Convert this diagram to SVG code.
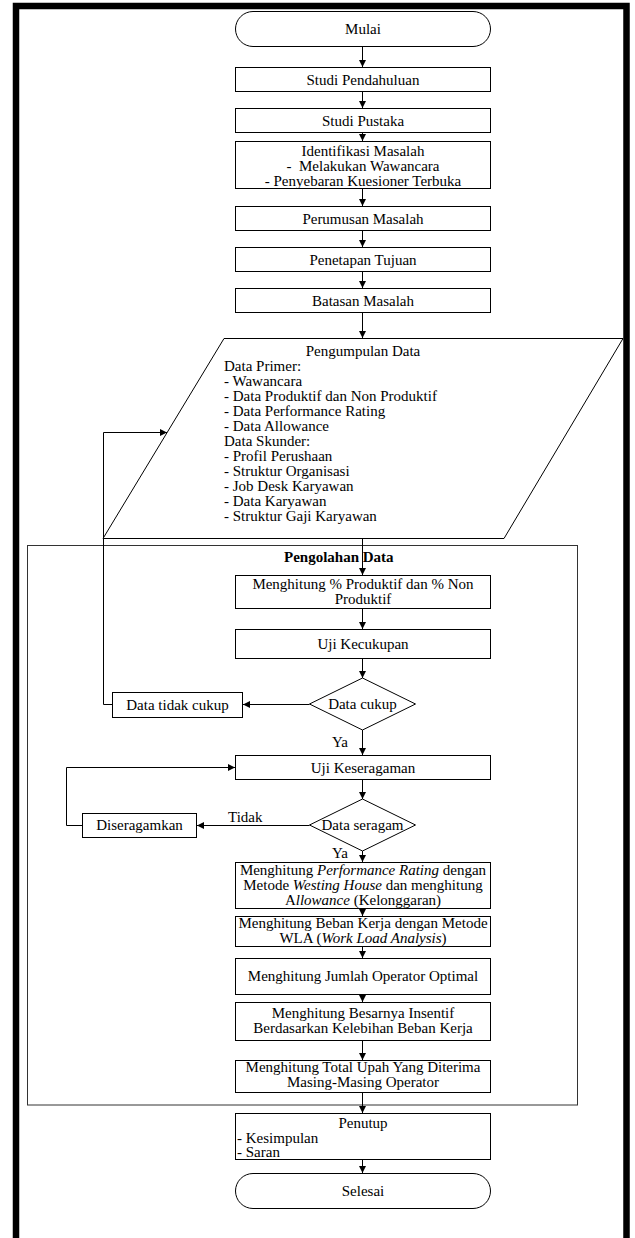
<svg xmlns="http://www.w3.org/2000/svg" width="635" height="1238" viewBox="0 0 635 1238">
<style>
text{font-family:"Liberation Serif","Times New Roman",serif;font-size:15px;fill:#000}
.c{text-anchor:middle}
.b{font-weight:bold}
.i{font-style:italic}
.pre{white-space:pre}
.box{fill:#fff;stroke:#000;stroke-width:1}
.ln{fill:none;stroke:#000;stroke-width:1}
.arr{fill:none;stroke:#000;stroke-width:1;marker-end:url(#ah)}
</style>
<defs>
<marker id="ah" viewBox="0 0 10 10" refX="10" refY="5" markerWidth="7" markerHeight="8" markerUnits="userSpaceOnUse" orient="auto">
<path d="M0,0 L10,5 L0,10 z" fill="#000"/>
</marker>
</defs>
<rect x="0" y="0" width="635" height="1238" fill="#fff"/>
<path d="M16,1245 V6 H626.5 V1245" fill="none" stroke="#000" stroke-width="6.5"/>
<g id="container">
<rect x="27.5" y="545.5" width="550" height="559.5" fill="none" stroke="#333" stroke-width="1"/>
<text class="b" x="284" y="562">Pengolahan Data</text>
</g>
<g id="mulai"><rect class="box" x="235.5" y="11.5" width="255" height="35" rx="17.5"/><text class="c" x="363" y="34">Mulai</text></g>
<g id="studi-pendahuluan"><rect class="box" x="235.5" y="67.5" width="255" height="24"/><text class="c" x="363" y="84.5">Studi Pendahuluan</text></g>
<g id="studi-pustaka"><rect class="box" x="235.5" y="108.5" width="255" height="24"/><text class="c" x="363" y="125.5">Studi Pustaka</text></g>
<g id="identifikasi"><rect class="box" x="235.5" y="141.5" width="255" height="47"/>
<text class="c" x="363" y="155.5">Identifikasi Masalah</text>
<text class="c pre" x="363" y="170.5" xml:space="preserve">-  Melakukan Wawancara</text>
<text class="c" x="363" y="185.5">- Penyebaran Kuesioner Terbuka</text></g>
<g id="perumusan"><rect class="box" x="235.5" y="206.5" width="255" height="24"/><text class="c" x="363" y="223.5">Perumusan Masalah</text></g>
<g id="penetapan"><rect class="box" x="235.5" y="247.5" width="255" height="24"/><text class="c" x="363" y="264.5">Penetapan Tujuan</text></g>
<g id="batasan"><rect class="box" x="235.5" y="288.5" width="255" height="24"/><text class="c" x="363" y="305.5">Batasan Masalah</text></g>
<g id="pengumpulan"><polygon class="box" points="224,338.5 623,338.5 504,538.5 103,538.5"/>
<text class="c" x="363" y="356">Pengumpulan Data</text>
<text x="224" y="371">Data Primer:</text>
<text x="224" y="386">- Wawancara</text>
<text x="224" y="401">- Data Produktif dan Non Produktif</text>
<text x="224" y="416">- Data Performance Rating</text>
<text x="224" y="431">- Data Allowance</text>
<text x="224" y="446">Data Skunder:</text>
<text x="224" y="461">- Profil Perushaan</text>
<text x="224" y="476">- Struktur Organisasi</text>
<text x="224" y="491">- Job Desk Karyawan</text>
<text x="224" y="506">- Data Karyawan</text>
<text x="224" y="521">- Struktur Gaji Karyawan</text></g>
<g id="produktif"><rect class="box" x="235.5" y="575.5" width="255" height="33"/>
<text class="c" x="363" y="589">Menghitung % Produktif dan % Non</text>
<text class="c" x="363" y="604">Produktif</text></g>
<g id="uji-kecukupan"><rect class="box" x="235.5" y="629.5" width="255" height="29"/><text class="c" x="363" y="649">Uji Kecukupan</text></g>
<g id="data-cukup"><polygon class="box" points="362.5,678 415.5,704 362.5,730 309.5,704"/><text class="c" x="362.5" y="709">Data cukup</text></g>
<g id="tidak-cukup"><rect class="box" x="112.5" y="692.5" width="130" height="25"/><text class="c" x="177.5" y="710">Data tidak cukup</text></g>
<g id="uji-keseragaman"><rect class="box" x="235.5" y="755.5" width="255" height="24"/><text class="c" x="363" y="772.5">Uji Keseragaman</text></g>
<g id="data-seragam"><polygon class="box" points="362.5,799 415.5,825 362.5,851 309.5,825"/><text class="c" x="362.5" y="830">Data seragam</text></g>
<g id="diseragamkan"><rect class="box" x="82.5" y="813.5" width="114" height="24"/><text class="c" x="139.5" y="830">Diseragamkan</text></g>
<g id="performance"><rect class="box" x="235.5" y="862.5" width="255" height="46"/>
<text class="c" x="363" y="875">Menghitung <tspan class="i">Performance Rating</tspan> dengan</text>
<text class="c" x="363" y="890">Metode <tspan class="i">Westing House</tspan> dan menghitung</text>
<text class="c" x="363" y="905">A<tspan class="i">llowance</tspan> (Kelonggaran)</text></g>
<g id="wla"><rect class="box" x="235.5" y="916.5" width="255" height="30"/>
<text class="c" x="363" y="928">Menghitung Beban Kerja dengan Metode</text>
<text class="c" x="363" y="943">WLA (<tspan class="i">Work Load Analysis</tspan>)</text></g>
<g id="jumlah-operator"><rect class="box" x="235.5" y="958.5" width="255" height="36"/><text class="c" x="363" y="981">Menghitung Jumlah Operator Optimal</text></g>
<g id="insentif"><rect class="box" x="235.5" y="1002.5" width="255" height="38"/>
<text class="c" x="363" y="1018">Menghitung Besarnya Insentif</text>
<text class="c" x="363" y="1033">Berdasarkan Kelebihan Beban Kerja</text></g>
<g id="total-upah"><rect class="box" x="235.5" y="1060.5" width="255" height="32"/>
<text class="c" x="363" y="1072">Menghitung Total Upah Yang Diterima</text>
<text class="c" x="363" y="1087">Masing-Masing Operator</text></g>
<g id="penutup"><rect class="box" x="235.5" y="1113.5" width="255" height="46"/>
<text class="c" x="363" y="1128">Penutup</text>
<text x="237" y="1143">- Kesimpulan</text>
<text x="237" y="1157">- Saran</text></g>
<g id="selesai"><rect class="box" x="235.5" y="1173.5" width="255" height="35" rx="17.5"/><text class="c" x="363" y="1196">Selesai</text></g>
<g id="connectors">
<line class="arr" x1="362.5" y1="47" x2="362.5" y2="67"/>
<line class="arr" x1="362.5" y1="92" x2="362.5" y2="108"/>
<line class="arr" x1="362.5" y1="133" x2="362.5" y2="141"/>
<line class="arr" x1="362.5" y1="189" x2="362.5" y2="206"/>
<line class="arr" x1="362.5" y1="231" x2="362.5" y2="247"/>
<line class="arr" x1="362.5" y1="272" x2="362.5" y2="288"/>
<line class="arr" x1="362.5" y1="313" x2="362.5" y2="338"/>
<line class="arr" x1="362.5" y1="539" x2="362.5" y2="575"/>
<line class="arr" x1="362.5" y1="609" x2="362.5" y2="629"/>
<line class="arr" x1="362.5" y1="659" x2="362.5" y2="678"/>
<line class="arr" x1="309.5" y1="704.5" x2="243" y2="704.5"/>
<polyline class="arr" points="112.5,704.5 103.5,704.5 103.5,432.5 167,432.5"/>
<line class="arr" x1="362.5" y1="730" x2="362.5" y2="755"/>
<text x="332" y="747">Ya</text>
<line class="arr" x1="362.5" y1="780" x2="362.5" y2="799"/>
<line class="arr" x1="309.5" y1="825.5" x2="197" y2="825.5"/>
<text x="228" y="822">Tidak</text>
<polyline class="arr" points="82.5,825.5 66.5,825.5 66.5,767.5 235,767.5"/>
<line class="arr" x1="362.5" y1="851" x2="362.5" y2="862"/>
<text x="332" y="858">Ya</text>
<line class="arr" x1="362.5" y1="909" x2="362.5" y2="916"/>
<line class="arr" x1="362.5" y1="947" x2="362.5" y2="958"/>
<line class="arr" x1="362.5" y1="995" x2="362.5" y2="1002"/>
<line class="arr" x1="362.5" y1="1041" x2="362.5" y2="1060"/>
<line class="arr" x1="362.5" y1="1093" x2="362.5" y2="1113"/>
<line class="arr" x1="362.5" y1="1160" x2="362.5" y2="1173"/>
</g>
</svg>
